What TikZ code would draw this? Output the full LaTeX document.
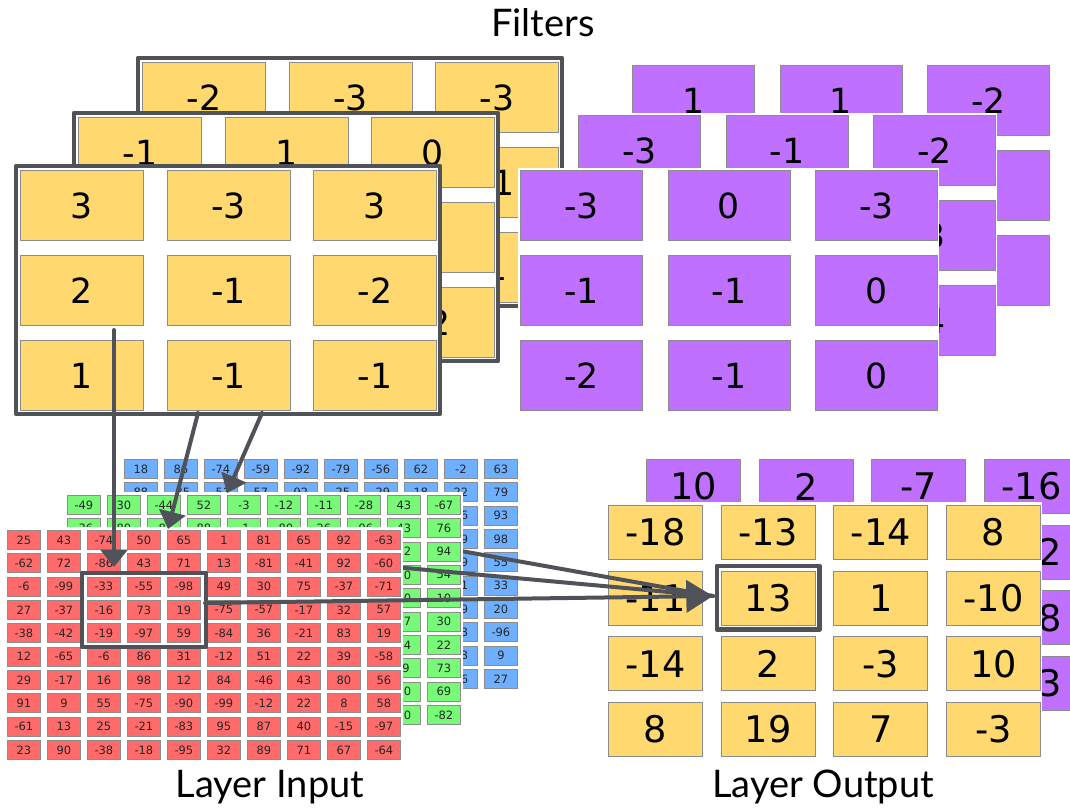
\documentclass[tikz,border=0pt]{standalone}
\usepackage{fontspec}
\setmainfont{DejaVu Sans}
\newfontfamily\titlefont{Lato}
\usetikzlibrary{arrows.meta}

\definecolor{filteryellow}{HTML}{FFD86F}
\definecolor{filterpurple}{HTML}{C070FF}
\definecolor{inred}{HTML}{FF6B6B}
\definecolor{ingreen}{HTML}{78FA78}
\definecolor{inblue}{HTML}{6EB0FF}
\definecolor{cellgray}{HTML}{8C8C8C}
\definecolor{pencil}{HTML}{4F5359}

\tikzset{
  smallcell/.style={draw=cellgray, line width=0.6pt, inner sep=0pt, anchor=north west,
    minimum width=24.75pt, minimum height=14.25pt, font=\fontsize{8.6}{10}\selectfont, text=black!85},
  bigcell/.style={draw=cellgray, line width=0.6pt, inner sep=0pt, anchor=north west,
    minimum width=92.25pt, minimum height=52.5pt, font=\fontsize{26}{30}\selectfont},
  outcell/.style={draw=cellgray, line width=0.6pt, inner sep=0pt, anchor=north west,
    minimum width=70.5pt, minimum height=40.5pt, font=\fontsize{27.5}{32}\selectfont},
  pencilframe/.style={draw=pencil, line width=3.2pt, line join=round},
  pencilline/.style={draw=pencil, line width=3pt, line cap=round},
  pencilarrow/.style={pencilline, -{Triangle[length=13pt,width=20pt]}},
  headline/.style={font=\titlefont\fontsize{28.5}{34}\selectfont, anchor=base}
}

% grid of numbered cells: prefix, style, x0, y0, step x, step y, rows
\newcommand{\numgrid}[7]{%
  \foreach \rowvals [count=\ri] in {#7} {
    \foreach \v [count=\ci] in \rowvals {
      \node[#2] (#1-\ri-\ci) at ({#3+(\ci-1)*#5}, {#4+(\ri-1)*#6}) {\v};
    }
  }
}

\begin{document}
\begin{tikzpicture}[x=0.75pt, y=-0.75pt]
  \useasboundingbox[fill=white] (0,0) rectangle (1070,809);

  % titles
  \node[headline] (filters) at (543,37) {Filters};
  \node[headline] (layerin) at (270,797) {Layer Input};
  \node[headline] (layerout) at (823,797) {Layer Output};

  % yellow filters
  \fill[white] (138,58) rectangle (562,306);
  \numgrid{yb}{bigcell, fill=filteryellow}{142}{62}{146.5}{85}{{-2,-3,-3},{,,-1},{,,1}}
  \draw[pencilframe] (138,58) rectangle (562,306);

  \fill[white] (74,113) rectangle (498,361);
  \numgrid{ym}{bigcell, fill=filteryellow}{78}{117}{146.5}{85}{{-1,1,0},{,,4},{,,-2}}
  \draw[pencilframe] (74,113) rectangle (498,361);

  \fill[white] (16,166) rectangle (440,414);
  \numgrid{yf}{bigcell, fill=filteryellow}{20}{170}{146.5}{85}{{3,-3,3},{2,-1,-2},{1,-1,-1}}
  \draw[pencilframe] (16,166) rectangle (440,414);

  % purple filters
  \fill[white] (630,63) rectangle (1051,307);
  \numgrid{pb}{bigcell, fill=filterpurple, minimum width=91.5pt}{632}{65}{147.5}{85}{{1,1,-2},{,,},{,,3}}
  \fill[white] (576,113) rectangle (997,357);
  \numgrid{pm}{bigcell, fill=filterpurple, minimum width=91.5pt}{578}{115}{147.5}{85}{{-3,-1,-2},{,,3},{,,4}}
  \fill[white] (518,168) rectangle (939,412);
  \numgrid{pf}{bigcell, fill=filterpurple, minimum width=91.5pt}{520}{170}{147.5}{85}{{-3,0,-3},{-1,-1,0},{-2,-1,0}}

  % layer output
  \fill[white] (643,456) rectangle (1080,714);
  \numgrid{op}{outcell, fill=filterpurple}{646}{459}{112.7}{65.7}{{10,2,-7,-16},{,,,-12},{,,,-18},{,,,-13}}
  \fill[white] (605,502) rectangle (1042,760);
  \numgrid{out}{outcell, fill=filteryellow}{608}{505}{112.7}{65.7}{{-18,-13,-14,8},{-11,13,1,-10},{-14,2,-3,10},{8,19,7,-3}}
  \draw[pencilframe] ([shift={(-4,-5)}]out-2-2.north west) rectangle ([shift={(4,4)}]out-2-2.south east);

  \coordinate (outtip) at (713,596);
  \coordinate (blueout) at (321,526);
  \coordinate (greenout) at (263,555);
  \coordinate (redout) at (205,603);

  % layer input
  \fill[white] (121,456) rectangle (520,690);
  \numgrid{in3}{smallcell, fill=inblue}{124}{459}{40}{23.33}{%
    {18,86,-74,-59,-92,-79,-56,62,-2,63},{88,-35,-51,57,92,-25,-29,18,22,79},
    {,,,,,,,,16,93},{,,,,,,,,79,98},{,,,,,,,,99,55},{,,,,,,,,11,33},
    {,,,,,,,,39,20},{,,,,,,,,23,-96},{,,,,,,,,13,9},{,,,,,,,,56,27}}
  \draw[pencilline] (blueout) -- (outtip);

  \fill[white] (64,492) rectangle (463,727);
  \numgrid{in2}{smallcell, fill=ingreen}{67}{495}{40}{23.33}{%
    {-49,30,-44,52,-3,-12,-11,-28,43,-67},{-36,80,-81,88,-1,-80,26,-96,43,76},
    {,,,,,,,,52,94},{,,,,,,,,10,54},{,,,,,,,,40,10},{,,,,,,,,77,30},
    {,,,,,,,,74,22},{,,,,,,,,-9,73},{,,,,,,,,20,69},{,,,,,,,,50,-82}}
  \draw[pencilline] (greenout) -- (outtip);

  \fill[white] (4,527) rectangle (403,763);
  \numgrid{in1}{smallcell, fill=inred}{7}{530}{40}{23.33}{%
    {25,43,-74,50,65,1,81,65,92,-63},{-62,72,-86,43,71,13,-81,-41,92,-60},
    {-6,-99,-33,-55,-98,49,30,75,-37,-71},{27,-37,-16,73,19,-75,-57,-17,32,57},
    {-38,-42,-19,-97,59,-84,36,-21,83,19},{12,-65,-6,86,31,-12,51,22,39,-58},
    {29,-17,16,98,12,84,-46,43,80,56},{91,9,55,-75,-90,-99,-12,22,8,58},
    {-61,13,25,-21,-83,95,87,40,-15,-97},{23,90,-38,-18,-95,32,89,71,67,-64}}
  \draw[pencilframe] ([shift={(-5,-4)}]in1-3-3.north west) rectangle ([shift={(5,4)}]in1-5-5.south east);
  \draw[pencilline, -{Triangle[length=20pt,width=24pt]}] (redout) -- (outtip);

  % filter to input arrows
  \coordinate (f1) at (114,330);
  \coordinate (f2) at (198,413);
  \coordinate (f3) at (262,413);
  \coordinate (t1) at (114,567);
  \coordinate (t2) at (168,529);
  \coordinate (t3) at (227,493);
  \draw[pencilarrow] (f1) -- (t1);
  \draw[pencilarrow] (f2) -- (t2);
  \draw[pencilarrow] (f3) -- (t3);
\end{tikzpicture}
\end{document}
